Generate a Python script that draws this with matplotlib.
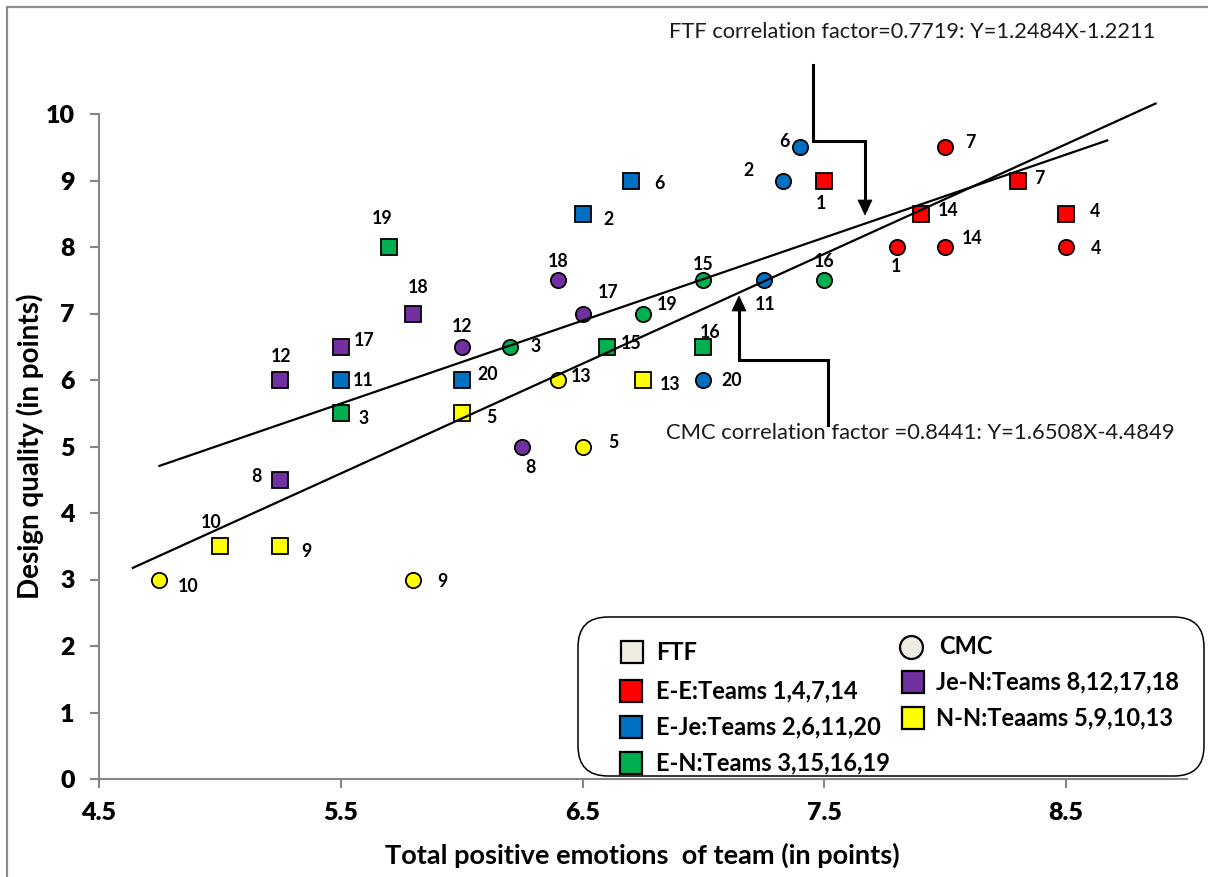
import matplotlib
matplotlib.use("Agg")
import numpy as np
import matplotlib.pyplot as plt
from matplotlib.transforms import IdentityTransform
from matplotlib.lines import Line2D
from matplotlib.patches import FancyBboxPatch, Polygon

plt.rcParams["font.family"] = ["Lato", "DejaVu Sans"]

# ---------------- data ----------------
# team numbers per pairing type
teams_ee = [1, 4, 7, 14]
teams_eje = [2, 6, 11, 20]
teams_en = [3, 15, 16, 19]
teams_jen = [8, 12, 17, 18]
teams_nn = [5, 9, 10, 13]

# face-to-face (FTF) sessions: positive emotions (x) and design quality (y)
ftf_ee_x = [7.5, 8.5, 8.3, 7.9]
ftf_ee_y = [9.0, 8.5, 9.0, 8.5]
ftf_eje_x = [6.5, 6.7, 5.5, 6.0]
ftf_eje_y = [8.5, 9.0, 6.0, 6.0]
ftf_en_x = [5.5, 6.6, 7.0, 5.7]
ftf_en_y = [5.5, 6.5, 6.5, 8.0]
ftf_jen_x = [5.25, 5.25, 5.5, 5.8]
ftf_jen_y = [4.5, 6.0, 6.5, 7.0]
ftf_nn_x = [6.0, 5.25, 5.0, 6.75]
ftf_nn_y = [5.5, 3.5, 3.5, 6.0]

# computer-mediated (CMC) sessions
cmc_ee_x = [7.8, 8.5, 8.0, 8.0]
cmc_ee_y = [8.0, 8.0, 9.5, 8.0]
cmc_eje_x = [7.33, 7.4, 7.25, 7.0]
cmc_eje_y = [9.0, 9.5, 7.5, 6.0]
cmc_en_x = [6.2, 7.0, 7.5, 6.75]
cmc_en_y = [6.5, 7.5, 7.5, 7.0]
cmc_jen_x = [6.25, 6.0, 6.5, 6.4]
cmc_jen_y = [5.0, 6.5, 7.0, 7.5]
cmc_nn_x = [6.5, 5.8, 4.75, 6.4]
cmc_nn_y = [5.0, 3.0, 3.0, 6.0]

# linear fits as reported
ftf_slope, ftf_intercept, ftf_r = 1.2484, -1.2211, 0.7719
cmc_slope, cmc_intercept, cmc_r = 1.6508, -4.4849, 0.8441
ftf_span = (4.75, 8.67)
cmc_span = (4.64, 8.87)

x_ticks = [4.5, 5.5, 6.5, 7.5, 8.5]
y_ticks = list(range(0, 11))

# ---------------- style ----------------
colors = {
    "ee": "#FF0000",
    "eje": "#0070C0",
    "en": "#00B050",
    "jen": "#7030A0",
    "nn": "#FFFF00",
}
neutral = "#EEECE1"
grey = "#868686"

# label offsets in pixels (dx, dy; dy upwards)
ftf_offsets = {
    "ee": [(-3, -23), (29, 2), (22, 2), (27, 3)],
    "eje": [(26, -6), (29, -3), (22, 0), (26, 6)],
    "en": [(23, -5), (24, 3), (7, 14), (-7, 29)],
    "jen": [(-24, 3), (1, 24), (23, 6), (5, 26)],
    "nn": [(30, -4), (26, -5), (-9, 24), (27, -5)],
}
cmc_offsets = {
    "ee": [(-1, -20), (30, -2), (25, 5), (27, 8)],
    "eje": [(-35, 10), (-16, 6), (1, -24), (28, 0)],
    "en": [(26, 0), (0, 16), (0, 19), (24, 9)],
    "jen": [(8, -21), (0, 20), (26, 21), (0, 19)],
    "nn": [(31, 4), (29, -2), (29, -7), (23, 4)],
}

W, H = 1208, 877
fig = plt.figure(figsize=(W / 100, H / 100), dpi=100)
fig.patch.set_facecolor("white")
ax = fig.add_axes([99 / W, (H - 779) / H, (1187 - 99) / W, (779 - 114) / H])

PIX = IdentityTransform()


def P(x, y):
    """pixel position measured from the top-left corner -> display coords"""
    return x, H - y


groups = [
    ("ee", teams_ee, ftf_ee_x, ftf_ee_y, cmc_ee_x, cmc_ee_y),
    ("eje", teams_eje, ftf_eje_x, ftf_eje_y, cmc_eje_x, cmc_eje_y),
    ("en", teams_en, ftf_en_x, ftf_en_y, cmc_en_x, cmc_en_y),
    ("jen", teams_jen, ftf_jen_x, ftf_jen_y, cmc_jen_x, cmc_jen_y),
    ("nn", teams_nn, ftf_nn_x, ftf_nn_y, cmc_nn_x, cmc_nn_y),
]

label_kw = dict(textcoords="offset pixels", ha="center", va="center",
                fontsize=12.8, fontweight="bold", color="black", zorder=6)

for key, teams, fx, fy, cx, cy in groups:
    ax.plot(fx, fy, linestyle="none", marker="s", markersize=11.5,
            markerfacecolor=colors[key], markeredgecolor="black",
            markeredgewidth=1.3, zorder=4, clip_on=False)
    ax.plot(cx, cy, linestyle="none", marker="o", markersize=11,
            markerfacecolor=colors[key], markeredgecolor="black",
            markeredgewidth=1.3, zorder=4, clip_on=False)
    for t, x, y, off in zip(teams, fx, fy, ftf_offsets[key]):
        ax.annotate(str(t), (x, y), xytext=off, **label_kw)
    for t, x, y, off in zip(teams, cx, cy, cmc_offsets[key]):
        ax.annotate(str(t), (x, y), xytext=off, **label_kw)

# regression lines
for (a, b), span in (((ftf_slope, ftf_intercept), ftf_span),
                     ((cmc_slope, cmc_intercept), cmc_span)):
    xs = np.array(span)
    ax.plot(xs, a * xs + b, color="black", linewidth=1.6, zorder=5,
            clip_on=False)

# axes
ax.set_xlim(4.5, 9.0)
ax.set_ylim(0, 10)
ax.set_xticks(x_ticks)
ax.set_xticklabels([f"{v:.1f}" for v in x_ticks])
ax.set_yticks(y_ticks)
ax.set_yticklabels([str(v) for v in y_ticks])
for s in ("top", "right"):
    ax.spines[s].set_visible(False)
for s in ("left", "bottom"):
    ax.spines[s].set_color(grey)
    ax.spines[s].set_linewidth(1.5)
ax.tick_params(axis="both", direction="out", length=6.5, width=1.5,
               color=grey, labelsize=18)
ax.tick_params(axis="x", pad=10)
ax.tick_params(axis="y", pad=11)
for lab in ax.get_xticklabels() + ax.get_yticklabels():
    lab.set_fontweight("heavy")

fig.text(*P(642, 855), "Total positive emotions  of team (in points)",
         transform=PIX, ha="center", va="center", fontsize=19.5,
         fontweight="bold")
fig.text(*P(30, 446), "Design quality (in points)", transform=PIX,
         ha="center", va="center", rotation=90, fontsize=20,
         fontweight="bold")

# correlation call-outs
fig.text(*P(912, 32),
         f"FTF correlation factor={ftf_r}: Y={ftf_slope}X{ftf_intercept:+.4f}",
         transform=PIX, ha="center", va="center", fontsize=15.7,
         color="#1a1a1a")
fig.text(*P(920, 433),
         f"CMC correlation factor ={cmc_r}: Y={cmc_slope}X{cmc_intercept:+.4f}",
         transform=PIX, ha="center", va="center", fontsize=15.8,
         color="#1a1a1a")


def elbow(points, tip, direction):
    xs, ys = zip(*[P(x, y) for x, y in points])
    fig.add_artist(Line2D(xs, ys, transform=PIX, color="black",
                          linewidth=2.2, solid_joinstyle="miter"))
    tx, ty = tip
    d = 15 * direction
    head = [P(tx, ty), P(tx - 7, ty + d), P(tx + 7, ty + d)]
    fig.add_artist(Polygon(head, closed=True, transform=PIX,
                           facecolor="black", edgecolor="black", linewidth=0.5))


elbow([(813, 65), (813, 141), (865, 141), (865, 203)], (865, 215), -1)
elbow([(828, 425), (828, 360), (739, 360), (739, 309)], (739, 296), 1)

# legend box
box = FancyBboxPatch(P(578, 776), 1204 - 578, 776 - 617, transform=PIX,
                     boxstyle="round,pad=0,rounding_size=30",
                     facecolor="white", edgecolor="black", linewidth=1.1,
                     zorder=3)
fig.add_artist(box)

legend_rows = [
    ("s", neutral, 632, 652, 656, "FTF"),
    ("s", colors["ee"], 631, 691, 656, "E-E:Teams 1,4,7,14"),
    ("s", colors["eje"], 631, 727, 656, "E-Je:Teams 2,6,11,20"),
    ("s", colors["en"], 631, 763, 656, "E-N:Teams 3,15,16,19"),
    ("o", neutral, 911, 647, 939, "CMC"),
    ("s", colors["jen"], 913, 682, 936, "Je-N:Teams 8,12,17,18"),
    ("s", colors["nn"], 913, 718, 936, "N-N:Teaams 5,9,10,13"),
]
for mk, fc, mx, my, tx, text in legend_rows:
    fig.add_artist(Line2D([P(mx, my)[0]], [P(mx, my)[1]], transform=PIX,
                          marker=mk, markersize=16.5, markerfacecolor=fc,
                          markeredgecolor="black", markeredgewidth=1.6,
                          linestyle="none", zorder=4))
    fig.text(*P(tx, my), text, transform=PIX, ha="left", va="center",
             fontsize=17, fontweight="bold", zorder=5)

# outer frame
fig.add_artist(Line2D([7, 7, W], [0, H - 7, H - 7], transform=PIX,
                      color="#8c8c8c", linewidth=1.6))

fig.savefig("out.png", dpi=100)
